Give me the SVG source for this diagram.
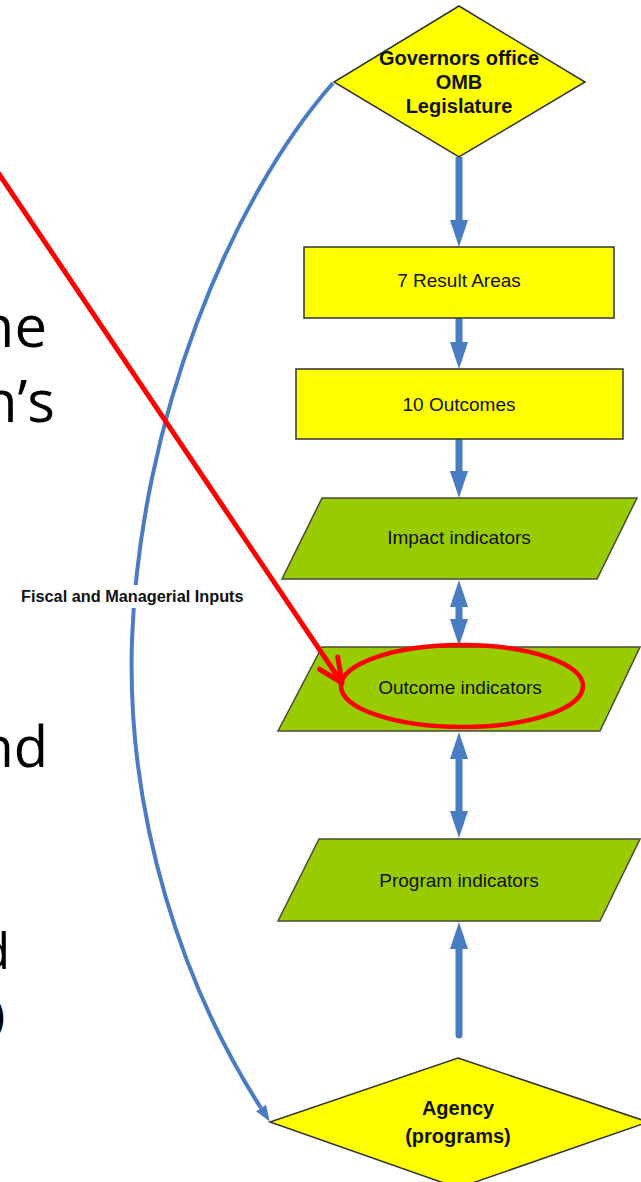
<svg xmlns="http://www.w3.org/2000/svg" width="641" height="1182" viewBox="0 0 641 1182">
<style>
.yel{fill:#ffff00;stroke:#333;stroke-width:1.5}
.grn{fill:#99cc00;stroke:#4a4a3a;stroke-width:1.5}
.lbl{font-family:"Liberation Sans",Arial,sans-serif;font-size:19px;fill:#111;text-anchor:middle}
.blbl{font-family:"Liberation Sans",Arial,sans-serif;font-size:20px;font-weight:bold;fill:#111;text-anchor:middle}
.big{font-family:"Open Sans","Noto Sans",sans-serif;fill:#000;text-anchor:end}
.flow{fill:none;stroke:#4a7cc4;stroke-width:7}
</style>
<defs>
<marker id="bh" markerUnits="userSpaceOnUse" viewBox="0 0 27 18" refX="0" refY="9" markerWidth="27" markerHeight="18" orient="auto-start-reverse">
<path d="M0,0 L27,9 L0,18 z" fill="#4a7cc4"/>
</marker>
<marker id="ch" markerUnits="userSpaceOnUse" viewBox="0 0 16 12" refX="0" refY="6" markerWidth="16" markerHeight="12" orient="auto">
<path d="M0,0 L16,6 L0,12 z" fill="#4a7cc4"/>
</marker>
<marker id="rh" markerUnits="userSpaceOnUse" viewBox="-30 -16 36 32" refX="0" refY="0" markerWidth="36" markerHeight="32" orient="auto">
<path d="M-24,-11 L0,0 L-24,11" fill="none" stroke="#ff0000" stroke-width="5" stroke-linecap="round" stroke-linejoin="round"/>
</marker>
</defs>
<rect width="641" height="1182" fill="#fff"/>

<g id="slide-text">
<text class="big" x="47" y="347" font-size="58">ne</text>
<text class="big" x="55" y="422" font-size="58">n’s</text>
<text class="big" x="48" y="767" font-size="56">nd</text>
<text class="big" x="10" y="969" font-size="50">d</text>
<text class="big" x="5" y="1030" font-size="44">)</text>
</g>

<g id="connectors">
<path class="flow" d="M459,157 L459,220" marker-end="url(#bh)"/>
<path class="flow" d="M459,318 L459,342" marker-end="url(#bh)"/>
<path class="flow" d="M459,439 L459,471" marker-end="url(#bh)"/>
<path class="flow" d="M459,607 L459,619" marker-start="url(#bh)" marker-end="url(#bh)"/>
<path class="flow" d="M459,759 L459,811" marker-start="url(#bh)" marker-end="url(#bh)"/>
<path class="flow" d="M459,1035 L459,949" stroke-linecap="round" marker-end="url(#bh)"/>
<path d="M333,83 C230,200 140,420 132,640 C126,820 185,990 261,1108" fill="none" stroke="#4a7cc4" stroke-width="4" marker-end="url(#ch)"/>
</g>

<g id="fiscal-label">
<rect x="18" y="585" width="232" height="23" fill="#fff"/>
<text x="21" y="602" font-family="'Liberation Sans',Arial,sans-serif" font-size="16.3" font-weight="bold" fill="#111">Fiscal and Managerial Inputs</text>
</g>

<g id="governors">
<polygon class="yel" points="459,6 585,82 459,157 334,82"/>
<text class="blbl" x="459" y="65">Governors office</text>
<text class="blbl" x="459" y="89">OMB</text>
<text class="blbl" x="459" y="113">Legislature</text>
</g>

<g id="result-areas">
<rect class="yel" x="304" y="247" width="310" height="71"/>
<text class="lbl" x="459" y="287">7 Result Areas</text>
</g>

<g id="outcomes">
<rect class="yel" x="296" y="369" width="327" height="70"/>
<text class="lbl" x="459" y="411">10 Outcomes</text>
</g>

<g id="impact">
<polygon class="grn" points="322,498 637,498 597,579 282,579"/>
<text class="lbl" x="459" y="544">Impact indicators</text>
</g>

<g id="outcome-ind">
<polygon class="grn" points="322,647 640,647 600,731 278,731"/>
<text class="lbl" x="460" y="694">Outcome indicators</text>
</g>

<g id="program-ind">
<polygon class="grn" points="319,839 640,839 600,921 278,921"/>
<text class="lbl" x="459" y="887">Program indicators</text>
</g>

<g id="agency">
<polygon class="yel" points="458,1058 648,1122 458,1188 270,1122"/>
<text class="blbl" x="458" y="1115" font-size="21">Agency</text>
<text class="blbl" x="458" y="1143" font-size="21">(programs)</text>
</g>

<g id="highlight">
<ellipse cx="462" cy="686" rx="121" ry="41" fill="none" stroke="#ff0000" stroke-width="4.5"/>
<path d="M-5,168 L342,683" fill="none" stroke="#ff0000" stroke-width="5" marker-end="url(#rh)"/>
</g>
</svg>
